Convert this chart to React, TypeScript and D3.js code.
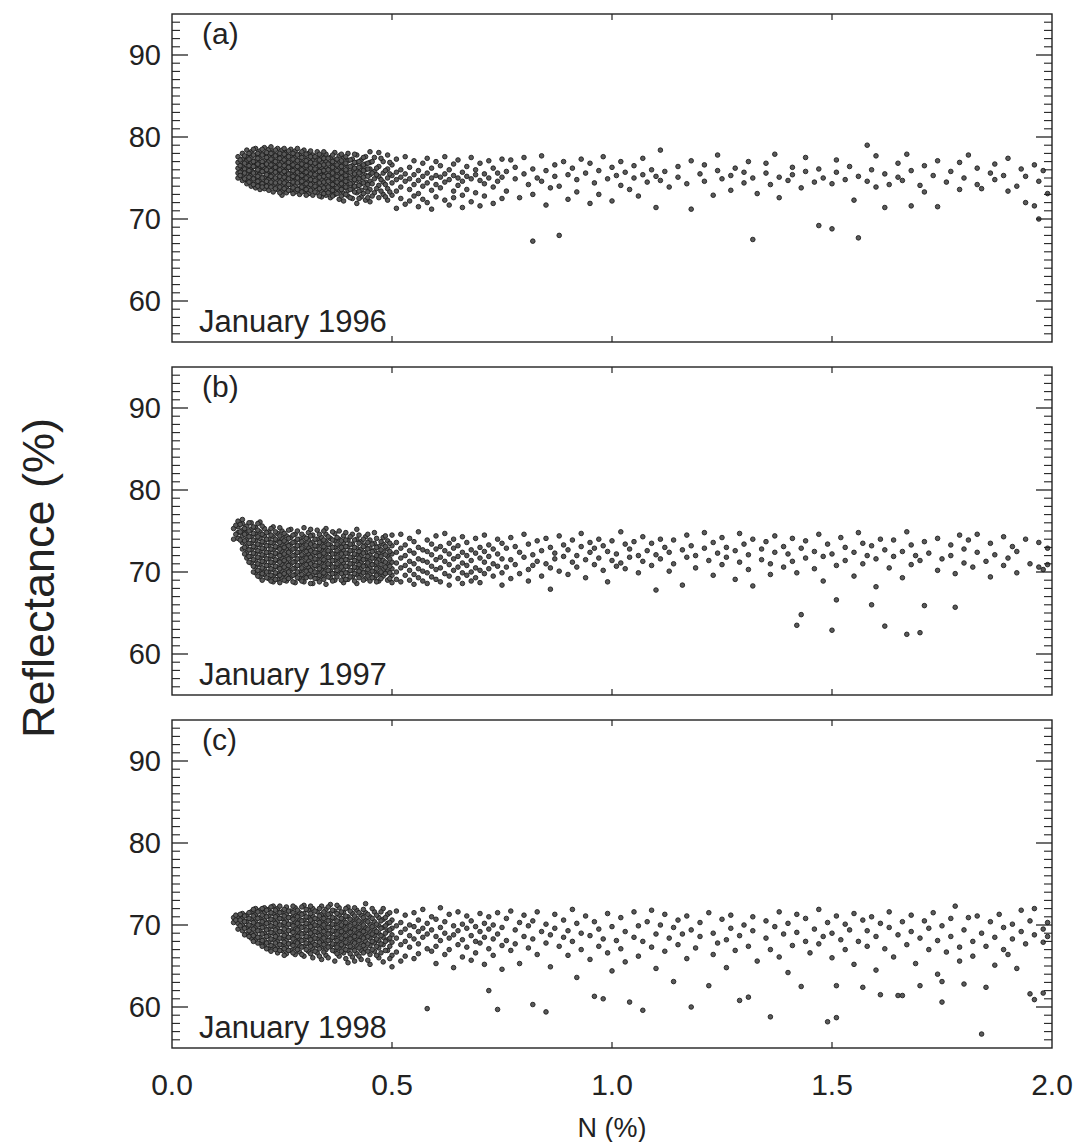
import React from "react";
import * as d3 from "d3";

// ---------- data (columns: [N %, reflectance values ...]) ----------
const jan1996: number[][] = [
  [0.15, 77.6, 76.9, 76.2, 75.6, 75.0],
  [0.16, 78.0, 77.3, 76.6, 75.9, 75.3, 74.7, 76.4],
  [0.17, 78.4, 77.6, 76.9, 76.2, 75.5, 74.8, 74.3, 77.1],
  [0.18, 78.2, 77.5, 76.8, 76.1, 75.4, 74.7, 74.0, 75.8],
  [0.19, 78.6, 77.8, 77.1, 76.4, 75.7, 75.0, 74.3, 73.8, 76.6],
  [0.2, 78.3, 77.6, 76.9, 76.2, 75.5, 74.8, 74.1, 73.6, 75.9],
  [0.21, 78.7, 77.9, 77.2, 76.5, 75.8, 75.1, 74.4, 73.7, 76.2],
  [0.22, 78.5, 77.7, 77.0, 76.3, 75.6, 74.9, 74.2, 73.5, 75.3],
  [0.23, 78.2, 77.5, 76.8, 76.1, 75.4, 74.7, 74.0, 73.3, 76.6],
  [0.24, 78.6, 77.8, 77.1, 76.4, 75.7, 75.0, 74.3, 73.6, 75.9],
  [0.25, 78.4, 77.6, 76.9, 76.2, 75.5, 74.8, 74.1, 73.4, 72.9],
  [0.26, 78.1, 77.4, 76.7, 76.0, 75.3, 74.6, 73.9, 73.2, 75.8],
  [0.27, 78.5, 77.7, 77.0, 76.3, 75.6, 74.9, 74.2, 73.5, 76.5],
  [0.28, 78.3, 77.5, 76.8, 76.1, 75.4, 74.7, 74.0, 73.3, 75.1],
  [0.29, 77.9, 77.2, 76.5, 75.8, 75.1, 74.4, 73.7, 73.0, 76.2],
  [0.3, 78.4, 77.6, 76.9, 76.2, 75.5, 74.8, 74.1, 73.4, 75.8],
  [0.31, 78.0, 77.3, 76.6, 75.9, 75.2, 74.5, 73.8, 73.1],
  [0.32, 77.8, 77.1, 76.4, 75.7, 75.0, 74.3, 73.6, 72.9, 76.0],
  [0.33, 78.2, 77.4, 76.7, 76.0, 75.3, 74.6, 73.9, 73.2],
  [0.34, 77.6, 76.9, 76.2, 75.5, 74.8, 74.1, 73.4, 72.7, 75.8],
  [0.35, 77.9, 77.1, 76.4, 75.7, 75.0, 74.3, 73.6, 72.9],
  [0.36, 77.5, 76.8, 76.1, 75.4, 74.7, 74.0, 73.3, 72.6],
  [0.37, 78.1, 77.2, 76.5, 75.8, 75.1, 74.4, 73.7, 73.0],
  [0.38, 77.7, 76.9, 76.2, 75.5, 74.8, 74.1, 73.4, 72.4],
  [0.39, 77.4, 76.6, 75.9, 75.2, 74.5, 73.8, 73.1, 72.2],
  [0.4, 78.0, 77.1, 76.3, 75.6, 74.9, 74.2, 73.5, 72.8],
  [0.41, 77.3, 76.5, 75.8, 75.1, 74.4, 73.7, 72.5],
  [0.42, 77.8, 76.9, 76.1, 75.4, 74.7, 74.0, 73.2, 71.9],
  [0.43, 77.2, 76.4, 75.7, 75.0, 74.3, 73.5, 72.7],
  [0.44, 77.6, 76.7, 76.0, 75.3, 74.5, 73.8, 72.3],
  [0.45, 78.2, 76.9, 76.1, 75.4, 74.6, 73.6, 72.1],
  [0.46, 77.5, 75.8, 74.9, 73.2],
  [0.47, 76.4, 75.2, 74.1, 72.6, 78.1],
  [0.48, 77.0, 75.6, 74.5, 73.0],
  [0.49, 76.1, 75.0, 73.7, 72.3, 77.8],
  [0.5, 76.6, 75.3, 74.4, 72.9],
  [0.51, 77.3, 75.7, 74.8, 73.4, 71.3],
  [0.52, 76.0, 75.1, 73.9, 72.5],
  [0.53, 77.6, 75.5, 74.6, 71.8],
  [0.54, 76.3, 74.9, 73.6, 72.2],
  [0.55, 77.1, 75.4, 74.2, 72.8],
  [0.56, 75.9, 74.7, 73.1, 71.5],
  [0.57, 76.8, 75.2, 74.0, 72.4],
  [0.58, 77.4, 75.6, 74.4, 72.0],
  [0.59, 76.2, 75.0, 73.5, 71.2],
  [0.6, 77.0, 75.3, 74.2, 72.7],
  [0.61, 76.5, 75.1, 73.8],
  [0.62, 77.6, 75.5, 74.5, 72.3],
  [0.63, 76.0, 74.8, 71.7],
  [0.64, 76.7, 75.3, 73.4, 72.6],
  [0.65, 77.2, 75.0, 74.1],
  [0.66, 75.7, 74.6, 72.9, 71.4],
  [0.67, 76.4, 75.2, 73.6],
  [0.68, 77.5, 74.9, 72.1],
  [0.69, 76.0, 75.4, 73.2],
  [0.7, 76.8, 74.7, 71.6],
  [0.71, 75.5, 74.3, 72.8],
  [0.72, 77.1, 75.0],
  [0.73, 76.2, 73.9, 71.9],
  [0.74, 75.6, 74.6],
  [0.75, 77.3, 75.1, 72.5],
  [0.76, 75.8, 73.4], [0.77, 77.2], [0.78, 74.9, 76.3], [0.79, 72.6],
  [0.8, 75.5, 77.5], [0.81, 74.2], [0.82, 76.1, 67.3, 73.0], [0.83, 75.0],
  [0.84, 77.7, 74.6], [0.85, 71.7, 75.9], [0.86, 73.8], [0.87, 76.6, 75.2],
  [0.88, 68.0, 74.0], [0.89, 77.0], [0.9, 75.4, 72.4], [0.91, 76.2],
  [0.92, 74.8, 73.3], [0.93, 77.3], [0.94, 75.6], [0.95, 71.9, 76.8],
  [0.96, 74.4], [0.97, 75.9, 73.0], [0.98, 77.6], [0.99, 74.9],
  [1.0, 76.3, 72.2], [1.01, 75.3], [1.02, 74.1, 77.0], [1.03, 75.7],
  [1.04, 73.6], [1.05, 76.5, 75.0], [1.06, 72.8], [1.07, 75.4, 77.4],
  [1.08, 74.5], [1.09, 76.0], [1.1, 75.2, 71.4], [1.11, 78.4, 74.7],
  [1.12, 75.8], [1.13, 73.9], [1.15, 76.4, 75.1], [1.17, 74.3],
  [1.18, 77.1, 71.2], [1.2, 75.5], [1.21, 74.6, 76.6], [1.23, 72.9],
  [1.24, 75.9, 77.8], [1.25, 74.9], [1.27, 75.3, 73.5], [1.28, 76.2],
  [1.3, 74.4, 75.7], [1.31, 77.0], [1.32, 67.5, 75.0], [1.33, 73.1],
  [1.35, 75.6, 76.8], [1.36, 74.2], [1.37, 77.9], [1.38, 75.1, 72.6],
  [1.4, 74.7], [1.41, 76.3, 75.4], [1.43, 73.8], [1.44, 75.8, 77.5],
  [1.46, 74.5], [1.47, 69.2, 76.1], [1.48, 75.0], [1.5, 68.8, 74.3],
  [1.51, 75.7, 77.2], [1.53, 74.8], [1.54, 76.4], [1.55, 72.3],
  [1.56, 67.7, 75.2], [1.58, 79.0, 74.6], [1.59, 76.0], [1.6, 73.9, 77.7],
  [1.62, 75.5, 71.4], [1.63, 74.2], [1.65, 76.8, 75.1], [1.66, 74.7],
  [1.67, 77.9], [1.68, 71.6, 75.9], [1.7, 74.1], [1.71, 76.5, 73.3],
  [1.73, 75.3], [1.74, 71.5, 77.1], [1.76, 74.5], [1.77, 75.8],
  [1.79, 76.9, 73.6], [1.8, 75.0], [1.81, 77.8], [1.83, 74.2, 76.2],
  [1.84, 73.7], [1.86, 75.6], [1.87, 76.7, 74.8], [1.89, 75.3],
  [1.9, 73.4, 77.4], [1.92, 74.0], [1.93, 76.1], [1.94, 75.2, 72.0],
  [1.96, 76.6, 71.6], [1.97, 70.0, 74.6], [1.98, 75.9], [1.99, 73.1],
];

// dense core, intermediate columns
const jan1996Core: number[][] = [
  [0.155, 77.2, 76.5, 75.7, 75.3],
  [0.165, 77.7, 76.8, 76.1, 75.6, 74.9],
  [0.175, 78.0, 77.3, 76.5, 75.9, 75.1, 74.5],
  [0.185, 78.5, 77.0, 76.4, 75.6, 74.9, 74.2, 77.8],
  [0.195, 78.0, 77.4, 76.7, 76.0, 75.2, 74.6, 74.0],
  [0.205, 78.5, 77.8, 77.0, 76.5, 75.8, 75.0, 74.3, 73.9],
  [0.215, 78.1, 77.5, 76.7, 76.0, 75.4, 74.6, 74.0],
  [0.225, 78.8, 78.0, 77.3, 76.6, 75.9, 75.2, 74.5, 73.9],
  [0.235, 78.4, 77.7, 77.0, 76.3, 75.7, 75.0, 74.4, 73.7],
  [0.245, 78.0, 77.4, 76.6, 76.0, 75.2, 74.5, 73.9, 73.2],
  [0.255, 78.6, 77.9, 77.2, 76.5, 75.8, 75.1, 74.4, 73.7],
  [0.265, 78.3, 77.6, 76.9, 76.3, 75.5, 74.9, 74.2, 73.5],
  [0.275, 78.0, 77.3, 76.6, 75.9, 75.2, 74.5, 73.8, 73.1],
  [0.285, 78.6, 77.8, 77.1, 76.4, 75.7, 75.0, 74.4, 73.6],
  [0.295, 78.2, 77.5, 76.7, 76.0, 75.3, 74.6, 73.9, 73.3],
  [0.305, 77.9, 77.1, 76.5, 75.7, 75.0, 74.3, 73.6, 72.9],
  [0.315, 78.3, 77.6, 76.9, 76.2, 75.5, 74.8, 74.2, 73.5],
  [0.325, 77.6, 76.8, 76.1, 75.4, 74.7, 74.0, 73.3],
  [0.335, 77.9, 77.2, 76.5, 75.8, 75.1, 74.4, 73.7, 72.8],
  [0.345, 78.2, 77.4, 76.6, 75.9, 75.2, 74.5, 73.8, 73.1],
  [0.355, 77.4, 76.7, 76.0, 75.3, 74.6, 73.9, 73.2],
  [0.365, 77.8, 77.0, 76.3, 75.6, 74.9, 74.2, 73.5, 72.8],
  [0.375, 77.3, 76.6, 75.9, 75.2, 74.5, 73.8, 73.1],
  [0.385, 77.9, 77.1, 76.4, 75.7, 75.0, 74.3, 73.6, 72.8],
  [0.395, 77.6, 76.8, 76.0, 75.3, 74.6, 73.9, 73.0],
  [0.405, 77.2, 76.4, 75.7, 75.0, 74.3, 73.6, 72.6],
  [0.415, 77.9, 76.9, 76.2, 75.5, 74.8, 74.0, 73.3],
  [0.425, 77.0, 76.3, 75.6, 74.9, 74.1, 73.4, 72.5],
  [0.435, 77.5, 76.6, 75.9, 75.1, 74.4, 73.1],
  [0.445, 76.8, 76.1, 75.2, 74.2, 73.3, 72.6],
  [0.455, 77.0, 75.6, 74.3, 72.8],
  [0.465, 76.2, 75.4, 73.7],
  [0.475, 77.4, 74.8, 73.4],
  [0.485, 75.9, 74.2, 72.7],
  [0.495, 76.9, 75.5, 73.3],
];

const jan1997: number[][] = [
  [0.14, 74.0, 75.3],
  [0.15, 76.2, 75.5, 74.8, 74.1],
  [0.16, 75.9, 75.1, 74.4, 73.6, 72.8, 76.4],
  [0.17, 75.6, 74.8, 74.0, 73.2, 72.4, 71.7],
  [0.18, 76.0, 75.2, 74.3, 73.5, 72.7, 71.9, 71.1],
  [0.19, 75.4, 74.6, 73.8, 73.0, 72.2, 71.4, 70.6, 69.9],
  [0.2, 76.1, 74.9, 74.1, 73.3, 72.5, 71.7, 70.9, 70.1, 69.4],
  [0.21, 75.3, 74.4, 73.6, 72.8, 72.0, 71.2, 70.4, 69.7],
  [0.22, 74.9, 74.0, 73.2, 72.4, 71.6, 70.8, 70.0, 69.2],
  [0.23, 75.5, 74.3, 73.5, 72.7, 71.9, 71.1, 70.3, 69.5, 68.8],
  [0.24, 74.7, 73.8, 73.0, 72.2, 71.4, 70.6, 69.8, 69.1],
  [0.25, 75.0, 74.1, 73.3, 72.5, 71.7, 70.9, 70.1, 69.3],
  [0.26, 74.4, 73.6, 72.8, 72.0, 71.2, 70.4, 69.6, 68.9],
  [0.27, 75.2, 74.2, 73.4, 72.6, 71.8, 71.0, 70.2, 69.4],
  [0.28, 74.6, 73.7, 72.9, 72.1, 71.3, 70.5, 69.7, 68.7],
  [0.29, 74.0, 73.2, 72.4, 71.6, 70.8, 70.0, 69.2],
  [0.3, 75.4, 74.3, 73.5, 72.7, 71.9, 71.1, 70.3, 69.5, 68.8],
  [0.31, 74.8, 73.9, 73.0, 72.2, 71.4, 70.6, 69.8],
  [0.32, 74.5, 73.6, 72.8, 72.0, 71.2, 70.4, 69.6, 68.6],
  [0.33, 75.1, 74.0, 73.1, 72.3, 71.5, 70.7, 69.9, 69.2],
  [0.34, 74.2, 73.4, 72.6, 71.8, 71.0, 70.2, 69.4],
  [0.35, 75.3, 74.6, 73.7, 72.9, 72.1, 71.3, 70.5, 69.7, 68.5],
  [0.36, 74.1, 73.3, 72.5, 71.7, 70.9, 70.1, 69.3],
  [0.37, 74.7, 73.8, 73.0, 72.2, 71.4, 70.6, 69.8, 69.0],
  [0.38, 75.0, 74.0, 73.2, 72.4, 71.6, 70.8, 70.0],
  [0.39, 74.4, 73.5, 72.7, 71.9, 71.1, 70.3, 69.5, 68.7],
  [0.4, 73.9, 73.1, 72.3, 71.5, 70.7, 69.9, 69.1],
  [0.41, 74.6, 73.4, 72.6, 71.8, 71.0, 70.2, 69.4],
  [0.42, 75.2, 74.0, 72.9, 72.1, 71.3, 70.5, 69.7, 68.6],
  [0.43, 73.7, 72.8, 72.0, 71.2, 70.4, 69.6],
  [0.44, 74.3, 73.3, 72.4, 71.6, 70.8, 70.0, 69.2],
  [0.45, 73.9, 72.9, 72.1, 71.3, 70.5, 69.7, 68.9],
  [0.46, 74.8, 73.5, 72.6, 71.7, 70.9, 70.1, 69.3],
  [0.47, 73.1, 72.3, 71.5, 70.6, 69.8, 68.9],
  [0.48, 74.2, 73.4, 72.5, 71.4, 70.3, 69.5],
  [0.49, 73.8, 72.8, 71.9, 71.0, 70.1, 69.0],
  [0.5, 74.5, 73.2, 72.2, 71.2, 70.4, 69.6, 68.7],
  [0.51, 73.6, 72.4, 71.1, 70.0, 69.1],
  [0.52, 74.6, 72.9, 71.7, 70.5, 68.8],
  [0.53, 73.3, 72.0, 70.8, 69.6],
  [0.54, 74.1, 72.6, 71.3, 70.2, 69.0],
  [0.55, 73.7, 72.3, 71.0, 69.7, 68.5],
  [0.56, 74.9, 73.0, 71.6, 70.4, 69.3],
  [0.57, 72.7, 71.4, 70.1, 68.9],
  [0.58, 73.9, 72.5, 71.2, 69.9, 68.6],
  [0.59, 73.4, 72.1, 70.7, 69.4],
  [0.6, 74.4, 72.8, 71.5, 70.3, 69.1],
  [0.61, 73.1, 71.8, 70.5, 68.8],
  [0.62, 74.7, 72.6, 71.3, 69.8],
  [0.63, 73.5, 72.2, 70.9, 69.5, 68.4],
  [0.64, 74.0, 72.9, 71.6, 70.2],
  [0.65, 73.2, 71.9, 70.6, 69.2],
  [0.66, 74.3, 72.4, 71.1, 69.9, 68.6],
  [0.67, 73.6, 72.0, 70.8, 69.6],
  [0.68, 72.7, 71.4, 70.0, 68.9],
  [0.69, 74.1, 72.3, 70.5, 69.3],
  [0.7, 73.0, 71.7, 70.2, 68.7],
  [0.71, 74.5, 72.5, 71.2, 69.8],
  [0.72, 73.3, 71.9, 70.4],
  [0.73, 72.8, 71.0, 69.5],
  [0.74, 74.0, 72.2, 70.7],
  [0.75, 73.5, 71.6, 69.9, 68.4],
  [0.76, 72.9, 70.6], [0.77, 74.2, 71.5, 69.2], [0.78, 73.1, 70.9], [0.79, 72.4, 69.8],
  [0.8, 74.6, 71.8], [0.81, 73.4, 70.3, 68.9], [0.82, 72.1, 70.8], [0.83, 73.8, 71.3],
  [0.84, 72.6, 69.5], [0.85, 74.1, 71.0], [0.86, 73.0, 70.5, 67.9], [0.87, 72.3, 71.6],
  [0.88, 74.4, 70.1], [0.89, 73.3, 71.9], [0.9, 72.7, 69.7], [0.91, 73.9, 71.2],
  [0.92, 72.0, 70.6], [0.93, 74.7, 73.1], [0.94, 71.5, 69.3], [0.95, 73.6, 72.4],
  [0.96, 70.9, 72.9], [0.97, 74.0, 71.7], [0.98, 73.2, 70.2], [0.99, 72.5, 68.8],
  [1.0, 73.8, 71.4], [1.01, 72.2, 70.7], [1.02, 74.9, 71.1], [1.03, 73.4, 70.4],
  [1.04, 72.8, 71.8], [1.05, 73.7], [1.06, 72.0, 69.9], [1.07, 74.3, 71.3],
  [1.08, 72.6], [1.09, 73.5, 70.8], [1.1, 72.1, 67.8], [1.11, 74.0, 71.6],
  [1.12, 73.0], [1.13, 72.4, 70.1], [1.14, 73.9, 71.0], [1.16, 72.7, 68.4],
  [1.17, 74.5, 71.8], [1.18, 73.2], [1.19, 72.0, 70.5], [1.21, 74.8, 72.9],
  [1.22, 71.4], [1.23, 73.6, 69.6], [1.24, 72.3], [1.25, 74.2, 70.9],
  [1.26, 73.0, 71.8], [1.28, 72.6, 69.1], [1.29, 74.7, 71.2], [1.3, 73.4],
  [1.31, 72.1, 70.3], [1.32, 74.0, 68.3], [1.34, 72.8, 71.5], [1.35, 73.7],
  [1.36, 71.0, 69.7], [1.37, 74.4, 72.4], [1.39, 73.1, 70.6], [1.4, 72.2],
  [1.41, 74.1, 71.3], [1.42, 63.5, 69.9], [1.43, 64.8, 72.9], [1.44, 73.8, 71.7],
  [1.46, 72.5, 70.4], [1.47, 74.6], [1.48, 71.9, 68.9], [1.49, 73.4],
  [1.5, 62.9, 72.2], [1.51, 66.6, 70.8], [1.52, 74.2], [1.53, 73.0, 71.4],
  [1.55, 72.4, 69.5], [1.56, 74.8], [1.57, 73.5, 71.0], [1.58, 72.0],
  [1.59, 66.0, 73.2], [1.6, 71.6, 68.2], [1.61, 74.0], [1.62, 63.4, 72.7],
  [1.63, 70.5], [1.64, 73.9, 71.9], [1.66, 72.5, 69.3], [1.67, 62.4, 74.9],
  [1.68, 73.3, 70.9], [1.69, 72.0], [1.7, 62.6, 71.4], [1.71, 65.9, 73.7],
  [1.72, 72.3], [1.74, 74.1, 70.2], [1.75, 71.6], [1.77, 73.3, 72.0],
  [1.78, 65.7, 69.8], [1.79, 74.5], [1.8, 72.8, 71.1], [1.81, 73.9],
  [1.82, 70.6], [1.83, 72.4, 74.6], [1.85, 71.3], [1.86, 73.5, 69.4],
  [1.87, 72.1], [1.89, 74.3, 70.8], [1.9, 71.7], [1.91, 73.1],
  [1.92, 72.5, 69.9], [1.94, 74.0], [1.95, 71.0], [1.97, 73.6, 70.6],
  [1.98, 70.3], [1.99, 72.9, 70.9],
];

const jan1997Core: number[][] = [
  [0.145, 75.7, 74.6],
  [0.155, 75.8, 74.9, 73.9],
  [0.165, 75.3, 74.6, 73.8, 73.0, 72.2],
  [0.175, 76.0, 75.0, 74.3, 73.5, 72.7, 71.9, 71.2],
  [0.185, 75.5, 74.7, 73.9, 73.1, 72.3, 71.5, 70.7, 70.0],
  [0.195, 75.9, 75.1, 74.3, 73.4, 72.6, 71.8, 71.0, 70.2, 69.5],
  [0.205, 75.6, 74.6, 73.7, 72.9, 72.1, 71.3, 70.5, 69.8, 69.0],
  [0.215, 74.8, 74.0, 73.2, 72.4, 71.6, 70.8, 70.0, 69.3],
  [0.225, 75.3, 74.5, 73.6, 72.8, 72.0, 71.2, 70.4, 69.6, 68.9],
  [0.235, 74.9, 74.0, 73.1, 72.3, 71.5, 70.7, 69.9, 69.1],
  [0.245, 75.4, 74.4, 73.6, 72.8, 72.0, 71.2, 70.4, 69.6, 68.7],
  [0.255, 74.7, 73.8, 73.0, 72.2, 71.4, 70.6, 69.8, 69.0],
  [0.265, 75.1, 74.1, 73.2, 72.4, 71.6, 70.8, 70.0, 69.2],
  [0.275, 74.5, 73.6, 72.8, 72.0, 71.2, 70.4, 69.6, 68.8],
  [0.285, 75.0, 74.0, 73.2, 72.4, 71.6, 70.8, 70.0, 69.3],
  [0.295, 74.6, 73.7, 72.9, 72.1, 71.3, 70.5, 69.7, 68.9],
  [0.305, 74.1, 73.3, 72.5, 71.7, 70.9, 70.1, 69.3],
  [0.315, 75.2, 74.4, 73.4, 72.6, 71.8, 71.0, 70.2, 69.4, 68.6],
  [0.325, 74.0, 73.2, 72.4, 71.6, 70.8, 70.0, 69.2],
  [0.335, 74.6, 73.6, 72.8, 72.0, 71.2, 70.4, 69.6, 68.8],
  [0.345, 75.0, 73.9, 73.1, 72.3, 71.5, 70.7, 69.9, 69.1],
  [0.355, 74.3, 73.4, 72.6, 71.8, 71.0, 70.2, 69.4],
  [0.365, 74.9, 73.9, 73.0, 72.2, 71.4, 70.6, 69.8, 68.9],
  [0.375, 74.2, 73.4, 72.6, 71.8, 71.0, 70.2, 69.4],
  [0.385, 73.8, 73.0, 72.2, 71.4, 70.6, 69.8, 69.0],
  [0.395, 74.8, 73.9, 73.1, 72.3, 71.5, 70.7, 69.9, 69.1],
  [0.405, 74.3, 73.4, 72.6, 71.8, 71.0, 70.2, 69.4],
  [0.415, 73.9, 73.0, 72.2, 71.4, 70.6, 69.8, 68.9],
  [0.425, 74.5, 73.5, 72.5, 71.7, 70.9, 70.1, 69.3],
  [0.435, 74.0, 73.1, 72.3, 71.5, 70.7, 69.9, 69.0],
  [0.445, 74.6, 73.6, 72.8, 71.9, 71.1, 70.3, 69.5],
  [0.455, 73.4, 72.5, 71.7, 70.9, 70.1, 69.3],
  [0.465, 74.1, 73.0, 72.0, 71.2, 70.4, 69.6, 68.8],
  [0.475, 73.7, 72.7, 71.9, 70.9, 70.0, 69.2],
  [0.485, 74.4, 73.1, 72.1, 71.2, 70.6, 69.8],
  [0.495, 73.5, 72.5, 71.6, 70.7, 69.9, 69.2],
];

const jan1998: number[][] = [
  [0.14, 70.9, 70.3],
  [0.15, 71.0, 70.2, 69.5],
  [0.16, 70.8, 70.0, 69.3, 71.4],
  [0.17, 71.2, 70.4, 69.7, 68.9],
  [0.18, 71.6, 70.7, 69.9, 69.1, 68.4],
  [0.19, 71.3, 70.5, 69.7, 68.9, 68.2, 72.0],
  [0.2, 71.8, 70.9, 70.1, 69.3, 68.5, 67.8],
  [0.21, 71.5, 70.6, 69.8, 69.0, 68.2, 67.5, 72.1],
  [0.22, 71.9, 71.1, 70.3, 69.5, 68.7, 67.9, 67.1],
  [0.23, 71.4, 70.6, 69.8, 69.0, 68.2, 67.4, 72.3],
  [0.24, 72.0, 71.2, 70.4, 69.6, 68.8, 68.0, 67.2, 66.6],
  [0.25, 71.6, 70.8, 70.0, 69.2, 68.4, 67.6, 66.9],
  [0.26, 72.2, 71.3, 70.5, 69.7, 68.9, 68.1, 67.3, 66.5],
  [0.27, 71.7, 70.9, 70.1, 69.3, 68.5, 67.7, 66.9],
  [0.28, 72.1, 71.2, 70.4, 69.6, 68.8, 68.0, 67.2, 66.4],
  [0.29, 71.5, 70.7, 69.9, 69.1, 68.3, 67.5, 66.7],
  [0.3, 72.4, 71.4, 70.6, 69.8, 69.0, 68.2, 67.4, 66.2],
  [0.31, 71.8, 70.9, 70.1, 69.3, 68.5, 67.7, 66.8],
  [0.32, 72.0, 71.1, 70.3, 69.5, 68.7, 67.9, 67.1, 66.0],
  [0.33, 71.6, 70.7, 69.9, 69.1, 68.3, 67.5, 66.6],
  [0.34, 72.3, 71.3, 70.5, 69.7, 68.9, 68.1, 67.3, 65.8],
  [0.35, 71.9, 71.0, 70.2, 69.4, 68.6, 67.8, 67.0, 66.3],
  [0.36, 72.5, 71.4, 70.6, 69.8, 69.0, 68.2, 67.4],
  [0.37, 71.7, 70.8, 70.0, 69.2, 68.4, 67.6, 66.8, 65.6],
  [0.38, 72.1, 71.2, 70.3, 69.5, 68.7, 67.9, 67.1, 66.2],
  [0.39, 71.5, 70.6, 69.8, 69.0, 68.2, 67.4, 66.6],
  [0.4, 72.2, 71.0, 70.1, 69.3, 68.5, 67.7, 66.9, 65.4],
  [0.41, 71.4, 70.5, 69.6, 68.8, 68.0, 67.2, 66.1],
  [0.42, 71.8, 70.8, 69.9, 69.1, 68.3, 67.5, 66.5],
  [0.43, 71.2, 70.3, 69.4, 68.6, 67.8, 66.9, 65.8],
  [0.44, 72.6, 71.5, 70.6, 69.7, 68.9, 68.0, 67.1],
  [0.45, 71.0, 70.1, 69.2, 68.4, 67.5, 66.4, 65.2],
  [0.46, 71.6, 70.4, 69.5, 68.7, 67.8, 66.8],
  [0.47, 70.9, 69.9, 69.0, 68.1, 67.2, 66.0],
  [0.48, 72.0, 70.7, 69.7, 68.5, 67.6, 65.5],
  [0.49, 71.3, 70.2, 69.3, 68.2, 66.9],
  [0.5, 70.6, 69.6, 68.8, 67.9, 66.3, 64.9],
  [0.51, 71.7, 69.9, 68.4, 66.7],
  [0.52, 70.3, 69.1, 67.6, 65.6],
  [0.53, 71.2, 69.5, 68.0, 66.2],
  [0.54, 70.0, 68.7, 67.3],
  [0.55, 71.5, 69.8, 68.3, 65.9],
  [0.56, 70.6, 69.2, 67.7, 66.5],
  [0.57, 71.9, 69.6, 68.5],
  [0.58, 70.2, 68.9, 67.1, 59.8],
  [0.59, 71.0, 69.4, 66.8],
  [0.6, 70.7, 68.6, 67.4, 65.3],
  [0.61, 72.1, 69.7, 68.1],
  [0.62, 70.4, 69.0, 66.4],
  [0.63, 71.3, 68.4, 67.0],
  [0.64, 69.9, 68.8, 64.8],
  [0.65, 71.6, 69.3, 67.6],
  [0.66, 70.1, 68.2, 66.1],
  [0.67, 71.1, 69.6, 67.3],
  [0.68, 70.5, 68.7, 65.7],
  [0.69, 69.8, 68.0, 66.6],
  [0.7, 71.4, 69.2, 67.8],
  [0.71, 70.2, 68.5, 65.2],
  [0.72, 71.0, 69.5, 67.1, 62.0],
  [0.73, 70.0, 68.3, 66.3],
  [0.74, 71.5, 68.9, 59.7],
  [0.75, 69.7, 67.5, 64.6],
  [0.76, 70.8, 68.1], [0.77, 71.7, 66.9], [0.78, 69.4, 67.7], [0.79, 70.3, 65.3],
  [0.8, 68.6, 71.2], [0.81, 69.9, 67.2], [0.82, 60.3, 70.5, 68.3], [0.83, 71.6, 66.4],
  [0.84, 69.2], [0.85, 59.4, 70.1, 67.8], [0.86, 68.8, 64.9], [0.87, 71.3, 69.6],
  [0.88, 67.4], [0.89, 70.6, 68.5], [0.9, 66.3, 69.3], [0.91, 71.9, 68.0],
  [0.92, 70.2, 63.6], [0.93, 69.0, 67.0], [0.94, 71.1], [0.95, 68.7, 65.8],
  [0.96, 70.4, 61.3], [0.97, 69.5, 67.4], [0.98, 61.0, 68.3], [0.99, 71.4, 66.6],
  [1.0, 69.8, 64.4], [1.01, 68.1], [1.02, 70.9, 67.1], [1.03, 69.2, 65.5],
  [1.04, 60.6], [1.05, 71.6, 68.5], [1.06, 69.9, 66.2], [1.07, 59.6, 68.0],
  [1.08, 70.4], [1.09, 71.8, 67.3], [1.1, 68.9, 64.7], [1.11, 70.0],
  [1.12, 71.3, 66.8], [1.13, 68.4], [1.14, 69.7, 63.1], [1.15, 70.6, 67.6],
  [1.16, 68.9], [1.17, 71.1, 65.9], [1.18, 60.0, 69.4], [1.19, 67.2],
  [1.2, 70.3, 68.6], [1.22, 71.5, 62.6], [1.23, 69.0, 66.4], [1.24, 67.8],
  [1.25, 70.7], [1.26, 68.2, 64.8], [1.27, 71.2, 69.6], [1.28, 66.9],
  [1.29, 60.8, 68.7], [1.3, 70.0], [1.31, 67.4, 61.2], [1.32, 69.3, 71.0],
  [1.33, 65.6], [1.35, 68.4, 70.5], [1.36, 58.8, 67.0], [1.37, 69.8],
  [1.38, 71.6, 66.1], [1.39, 68.9], [1.4, 70.2, 64.2], [1.41, 67.5],
  [1.42, 69.1, 71.3], [1.43, 62.5], [1.44, 68.0, 70.8], [1.45, 66.6],
  [1.46, 69.5], [1.47, 71.9, 67.7], [1.48, 68.6], [1.49, 58.2, 70.3],
  [1.5, 66.0, 69.0], [1.51, 58.7, 62.6, 71.1], [1.52, 68.2], [1.53, 70.1, 67.0],
  [1.54, 69.4], [1.55, 71.4, 65.2], [1.56, 68.0], [1.57, 62.4, 70.6],
  [1.58, 67.4, 69.3], [1.59, 71.0], [1.6, 68.6, 64.5], [1.61, 61.5, 70.2],
  [1.62, 67.1], [1.63, 69.7, 71.6], [1.64, 66.1], [1.65, 61.4, 68.8],
  [1.66, 61.4, 70.4], [1.67, 67.6], [1.68, 69.2, 71.2], [1.69, 65.3],
  [1.7, 62.6, 68.4], [1.71, 70.5], [1.72, 67.0, 69.6], [1.73, 71.5],
  [1.74, 68.1, 64.0], [1.75, 63.1, 60.6, 69.9], [1.76, 66.7], [1.77, 70.8, 68.6],
  [1.78, 72.3], [1.79, 67.3, 65.6], [1.8, 62.8, 69.4], [1.81, 70.9],
  [1.82, 68.0, 66.2], [1.83, 71.1], [1.84, 56.7, 69.0], [1.85, 62.4, 67.4],
  [1.86, 70.4], [1.87, 68.5, 65.1], [1.88, 71.3], [1.89, 69.7, 67.0],
  [1.9, 66.4], [1.91, 70.1, 68.3], [1.92, 64.7], [1.93, 71.8, 69.2],
  [1.94, 67.7], [1.95, 61.6, 70.5], [1.96, 60.9, 72.0, 68.8],
  [1.98, 61.7, 69.5, 67.9], [1.99, 70.3, 68.6],
];

const jan1998Core: number[][] = [
  [0.145, 70.6, 71.2],
  [0.155, 70.6, 69.9, 71.3],
  [0.165, 71.1, 70.4, 69.6, 68.8],
  [0.175, 71.5, 70.8, 70.0, 69.3, 68.6],
  [0.185, 71.9, 71.1, 70.3, 69.5, 68.7, 68.0],
  [0.195, 71.6, 70.8, 70.0, 69.3, 68.5, 67.8],
  [0.205, 72.0, 71.2, 70.4, 69.7, 68.9, 68.1, 67.4],
  [0.215, 71.8, 71.0, 70.2, 69.4, 68.6, 67.8, 67.1],
  [0.225, 72.2, 71.5, 70.7, 69.9, 69.1, 68.3, 67.5, 66.8],
  [0.235, 71.8, 71.0, 70.2, 69.4, 68.6, 67.8, 67.0],
  [0.245, 72.3, 71.5, 70.8, 70.0, 69.2, 68.4, 67.6, 66.9],
  [0.255, 71.9, 71.1, 70.3, 69.5, 68.7, 67.9, 67.1, 66.3],
  [0.265, 71.7, 70.9, 70.1, 69.3, 68.5, 67.7, 66.9],
  [0.275, 72.3, 71.5, 70.7, 69.9, 69.1, 68.3, 67.5, 66.6],
  [0.285, 71.8, 71.0, 70.2, 69.4, 68.6, 67.8, 67.0],
  [0.295, 72.2, 71.3, 70.5, 69.7, 68.9, 68.1, 67.3, 66.4],
  [0.305, 71.9, 71.0, 70.2, 69.4, 68.6, 67.8, 67.0],
  [0.315, 72.3, 71.4, 70.6, 69.8, 69.0, 68.2, 67.4, 66.5],
  [0.325, 71.7, 70.8, 70.0, 69.2, 68.4, 67.6, 66.8],
  [0.335, 72.0, 71.1, 70.3, 69.5, 68.7, 67.9, 67.1, 66.2],
  [0.345, 71.6, 70.8, 70.0, 69.2, 68.4, 67.6, 66.7],
  [0.355, 72.2, 71.3, 70.5, 69.7, 68.9, 68.1, 67.3, 66.0],
  [0.365, 71.8, 70.9, 70.1, 69.3, 68.5, 67.7, 66.9],
  [0.375, 72.4, 71.4, 70.5, 69.7, 68.9, 68.1, 67.3, 66.5],
  [0.385, 71.6, 70.8, 70.0, 69.2, 68.4, 67.6, 66.8],
  [0.395, 72.0, 71.1, 70.3, 69.5, 68.7, 67.9, 67.0, 65.9],
  [0.405, 71.7, 70.7, 69.9, 69.1, 68.3, 67.4, 66.5],
  [0.415, 72.1, 71.1, 70.2, 69.4, 68.6, 67.8, 66.9, 65.6],
  [0.425, 71.5, 70.5, 69.7, 68.9, 68.1, 67.2, 66.2],
  [0.435, 71.9, 70.9, 70.0, 69.2, 68.4, 67.5, 66.6],
  [0.445, 71.3, 70.4, 69.5, 68.6, 67.7, 66.8, 65.7],
  [0.455, 72.0, 70.8, 69.8, 68.9, 68.0, 67.0],
  [0.465, 71.2, 70.1, 69.2, 68.3, 67.4, 66.3],
  [0.475, 71.6, 70.5, 69.6, 68.7, 67.7, 66.6],
  [0.485, 70.9, 69.9, 69.0, 68.0, 66.9],
  [0.495, 71.5, 70.3, 69.4, 68.4, 67.4, 65.9],
];

const seriesData = [
  [jan1996, jan1996Core],
  [jan1997, jan1997Core],
  [jan1998, jan1998Core],
];
const panelTags = ["(a)", "(b)", "(c)"];
const panelTitles = ["January 1996", "January 1997", "January 1998"];
const xTickValues = [0, 0.5, 1.0, 1.5, 2.0];
const yTickValues = [60, 70, 80, 90];
const xDomain = [0, 2];
const yDomain = [55, 95];
const xTitle = "N (%)";
const yTitle = "Reflectance (%)";

// ---------- layout ----------
const W = 1076;
const H = 1142;
const LEFT = 172;
const RIGHT = 1052;
const PANEL_TOPS = [14, 367, 720];
const PANEL_H = 328;
const FONT = "'Liberation Sans', Arial, Helvetica, sans-serif";
const INK = "#222";

export default function App() {
  const x = d3.scaleLinear().domain(xDomain).range([LEFT, RIGHT]);
  const minorY = d3.range(yDomain[0] + 1, yDomain[1]).filter((v) => v % 10 !== 0);

  return (
    <svg
      width={W}
      height={H}
      viewBox={`0 0 ${W} ${H}`}
      style={{ position: "absolute", left: 0, top: 0, background: "#fff" }}
    >
      <rect x={0} y={0} width={W} height={H} fill="#fff" />
      {seriesData.map((sets, pi) => {
        const top = PANEL_TOPS[pi];
        const bottom = top + PANEL_H;
        const y = d3.scaleLinear().domain(yDomain).range([bottom, top]);
        const pts = sets.flatMap((cols) =>
          cols.flatMap(([xv, ...ys]) => ys.map((yv) => [xv, yv]))
        );
        return (
          <g key={pi}>
            <g>
              {pts.map(([xv, yv], i) => (
                <circle
                  key={i}
                  cx={x(xv)}
                  cy={y(yv)}
                  r={2.3}
                  fill="#5a5a5a"
                  stroke="#1e1e1e"
                  strokeWidth={0.9}
                />
              ))}
            </g>
            <rect
              x={LEFT}
              y={top}
              width={RIGHT - LEFT}
              height={PANEL_H}
              fill="none"
              stroke={INK}
              strokeWidth={1.4}
            />
            {yTickValues.map((v) => (
              <g key={"y" + v}>
                <line x1={LEFT} x2={LEFT + 16} y1={y(v)} y2={y(v)} stroke={INK} strokeWidth={1.3} />
                <line x1={RIGHT} x2={RIGHT - 16} y1={y(v)} y2={y(v)} stroke={INK} strokeWidth={1.3} />
                <text
                  x={LEFT - 11}
                  y={y(v)}
                  dy="0.36em"
                  textAnchor="end"
                  fontFamily={FONT}
                  fontSize={29}
                  fill={INK}
                >
                  {v}
                </text>
              </g>
            ))}
            {minorY.map((v) => (
              <g key={"m" + v}>
                <line x1={LEFT} x2={LEFT + 8} y1={y(v)} y2={y(v)} stroke={INK} strokeWidth={1.1} />
                <line x1={RIGHT} x2={RIGHT - 8} y1={y(v)} y2={y(v)} stroke={INK} strokeWidth={1.1} />
              </g>
            ))}
            {xTickValues.slice(1, -1).map((v) => (
              <g key={"x" + v}>
                <line x1={x(v)} x2={x(v)} y1={bottom} y2={bottom - 6} stroke={INK} strokeWidth={1.2} />
                <line x1={x(v)} x2={x(v)} y1={top} y2={top + 6} stroke={INK} strokeWidth={1.2} />
              </g>
            ))}
            <text x={LEFT + 30} y={top + 30} fontFamily={FONT} fontSize={30} fill={INK}>
              {panelTags[pi]}
            </text>
            <text x={LEFT + 27} y={bottom - 10} fontFamily={FONT} fontSize={31} fill={INK}>
              {panelTitles[pi]}
            </text>
          </g>
        );
      })}
      {xTickValues.map((v) => (
        <text
          key={"xl" + v}
          x={x(v)}
          y={1095}
          textAnchor="middle"
          fontFamily={FONT}
          fontSize={30}
          fill={INK}
        >
          {d3.format(".1f")(v)}
        </text>
      ))}
      <text x={(LEFT + RIGHT) / 2} y={1137} textAnchor="middle" fontFamily={FONT} fontSize={27} fill={INK}>
        {xTitle}
      </text>
      <text
        transform={`translate(54, 578) rotate(-90)`}
        textAnchor="middle"
        fontFamily={FONT}
        fontSize={45}
        fill={INK}
      >
        {yTitle}
      </text>
    </svg>
  );
}
